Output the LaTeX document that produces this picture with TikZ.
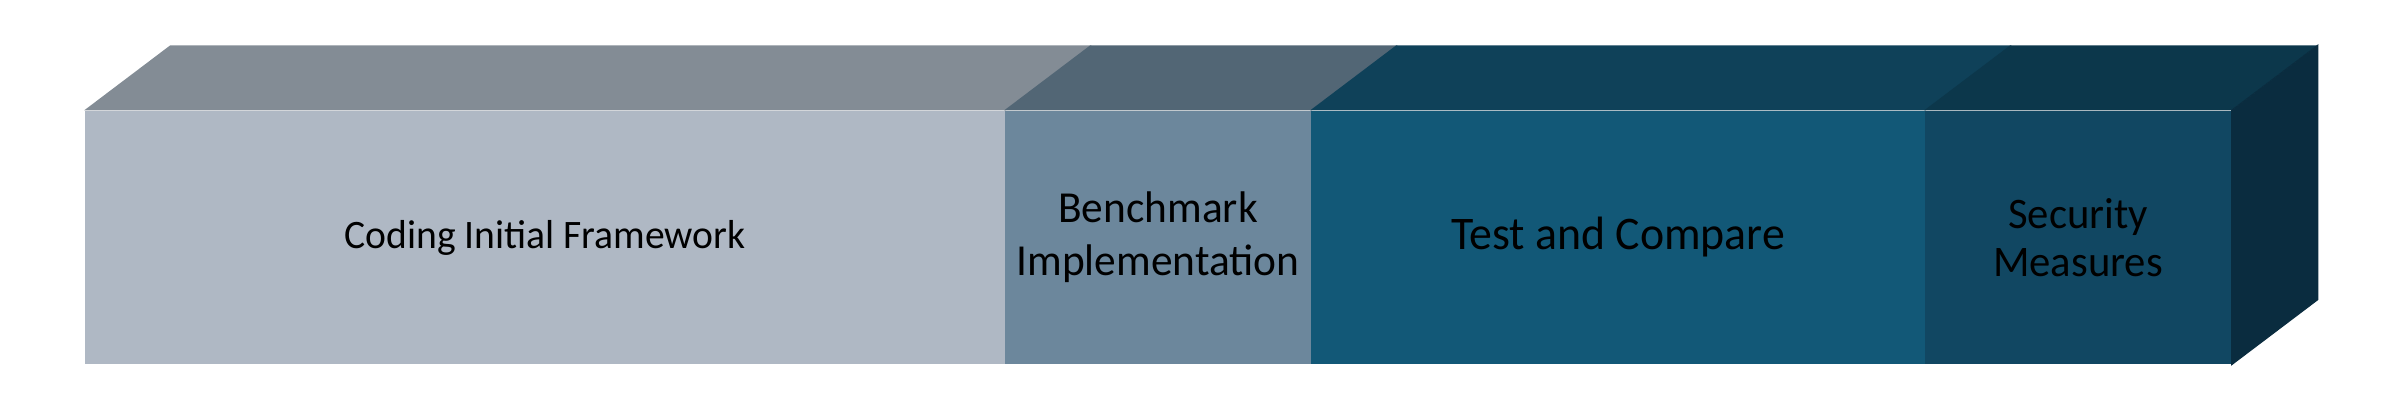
\documentclass[tikz,border=0pt]{standalone}
\usepackage{fontspec}
\setmainfont[FakeStretch=0.98]{Carlito}
\usepackage{tikz}

\definecolor{frontA}{HTML}{AFB8C4}
\definecolor{topA}{HTML}{838C95}
\definecolor{frontB}{HTML}{6C879C}
\definecolor{topB}{HTML}{526675}
\definecolor{frontC}{HTML}{125877}
\definecolor{topC}{HTML}{0F4159}
\definecolor{frontD}{HTML}{114762}
\definecolor{topD}{HTML}{0C374B}
\definecolor{sideD}{HTML}{0A2C3F}

\tikzstyle{seg}=[rectangle,inner sep=0,minimum height=2.53cm,align=center,text=black]

\begin{document}
\begin{tikzpicture}
	\useasboundingbox (0,0) rectangle (23.81,4.08);

                        \node[seg,fill=frontA,minimum width=9.20cm,font=\fontsize{11.5}{14}\selectfont] (a) at (5.45,1.705) {Coding Initial Framework};
                        \node[seg,fill=frontB,minimum width=3.06cm,font=\fontsize{12.6}{15.1}\selectfont] (b) at (11.58,1.705) {Benchmark\\Implementation};
                        \node[seg,fill=frontC,minimum width=6.14cm,font=\fontsize{13.3}{16}\selectfont] (c) at (16.18,1.705) {Test and Compare};
                        \node[seg,fill=frontD,minimum width=3.06cm,font=\fontsize{12.4}{13.7}\selectfont] (d) at (20.78,1.705) {Security\\Measures};

                        % top faces
                        \fill[topA] (a.north west) -- ++(0.86,0.65) -- ([shift={(0.86,0.65)}]a.north east) -- (a.north east) -- cycle;
                        \fill[topB] (b.north west) -- ++(0.86,0.65) -- ([shift={(0.86,0.65)}]b.north east) -- (b.north east) -- cycle;
                        \fill[topC] (c.north west) -- ++(0.86,0.65) -- ([shift={(0.86,0.65)}]c.north east) -- (c.north east) -- cycle;
                        \fill[topD] (d.north west) -- ++(0.86,0.65) -- ([shift={(0.86,0.65)}]d.north east) -- (d.north east) -- cycle;

                        % side face
                        \filldraw[sideD,line width=0.3pt] (d.north east) -- ++(0.86,0.65) -- ([shift={(0.86,0.65)}]d.south east) -- (d.south east) -- cycle;

    \end{tikzpicture}
\end{document}
